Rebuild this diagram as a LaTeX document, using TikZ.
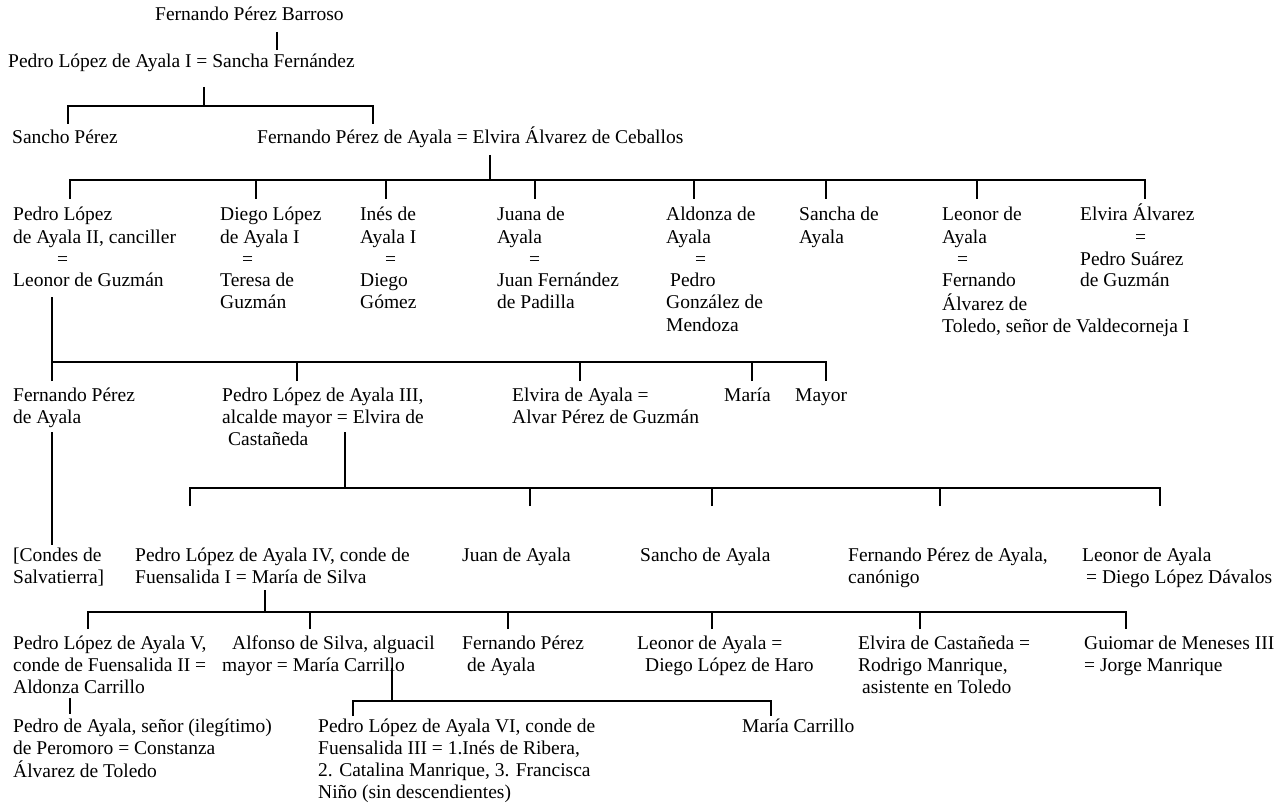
\documentclass[tikz,border=0pt]{standalone}
\usepackage{fontspec}
\setmainfont{Liberation Serif}

\newcommand{\namelines}[1]{\begin{tabular}[t]{@{}l@{}}#1\end{tabular}}

\tikzset{
  person/.style={anchor=base west, inner sep=0pt,
    font=\fontsize{19.5}{22}\selectfont},
  famline/.style={line width=1.3pt}
}

\begin{document}
\begin{tikzpicture}[x=1pt,y=-1pt]
  \useasboundingbox (0,0) rectangle (1279,805);

  % first generations
  \node[person] (barroso) at (155,21) {Fernando Pérez Barroso};
  \node[person] (pedroI) at (8,68) {Pedro López de Ayala I = Sancha Fernández};
  \node[person] (sanchoP) at (12,144) {Sancho Pérez};
  \node[person] (fernandoP) at (257,144) {Fernando Pérez de Ayala = Elvira Álvarez de Ceballos};

  % children of Fernando Pérez de Ayala
  \node[person] (pedroII) at (13,221) {\namelines{Pedro López\\de Ayala II, canciller\\\hspace*{44pt}=\\Leonor de Guzmán}};
  \node[person] (diegoI) at (220,221) {\namelines{Diego López\\de Ayala I\\\hspace*{22pt}=\\Teresa de\\Guzmán}};
  \node[person] (inesI) at (360,221) {\namelines{Inés de\\Ayala I\\\hspace*{25pt}=\\Diego\\Gómez}};
  \node[person] (juanaA) at (497,221) {\namelines{Juana de\\Ayala\\\hspace*{32pt}=\\Juan Fernández\\de Padilla}};
  \node[person] (aldonzaA) at (666,221) {\namelines{Aldonza de\\Ayala\\\hspace*{29pt}=\\\hspace*{4pt}Pedro\\González de\\Mendoza}};
  \node[person] (sanchaA) at (799,221) {\namelines{Sancha de\\Ayala}};
  \node[person] (leonorA) at (942,221) {\namelines{Leonor de\\Ayala\\\hspace*{15pt}=\\Fernando\\Álvarez de\\Toledo, señor de Valdecorneja I}};
  \node[person] (elviraA) at (1080,221) {\namelines{Elvira Álvarez\\\hspace*{55pt}=\\Pedro Suárez\\de Guzmán}};

  % children of Pedro López de Ayala II
  \node[person] (fernandoS) at (13,401) {\namelines{Fernando Pérez\\de Ayala}};
  \node[person] (pedroIII) at (222,401) {\namelines{Pedro López de Ayala III,\\alcalde mayor = Elvira de\\\hspace*{6pt}Castañeda}};
  \node[person] (elviraB) at (512,401) {\namelines{Elvira de Ayala =\\Alvar Pérez de Guzmán}};
  \node[person] (mariaA) at (724,401) {María};
  \node[person] (mayorA) at (795,401) {Mayor};

  % children of Pedro López de Ayala III
  \node[person] (condes) at (13,561) {\namelines{[Condes de\\Salvatierra]}};
  \node[person] (pedroIV) at (135,561) {\namelines{Pedro López de Ayala IV, conde de\\Fuensalida I = María de Silva}};
  \node[person] (juanB) at (462,561) {Juan de Ayala};
  \node[person] (sanchoB) at (640,561) {Sancho de Ayala};
  \node[person] (fernandoC) at (848,561) {\namelines{Fernando Pérez de Ayala,\\canónigo}};
  \node[person] (leonorB) at (1082,561) {\namelines{Leonor de Ayala\\\hspace*{4pt}= Diego López Dávalos}};

  % children of Pedro López de Ayala IV
  \node[person] (pedroV) at (13,649) {\namelines{Pedro López de Ayala V,\\conde de Fuensalida II =\\Aldonza Carrillo}};
  \node[person] (alfonso) at (222,649) {\namelines{\hspace*{10pt}Alfonso de Silva, alguacil\\mayor = María Carrillo}};
  \node[person] (fernandoD) at (462,649) {\namelines{Fernando Pérez\\\hspace*{5pt}de Ayala}};
  \node[person] (leonorC) at (637,649) {\namelines{Leonor de Ayala =\\\hspace*{8pt}Diego López de Haro}};
  \node[person] (elviraC) at (858,649) {\namelines{Elvira de Castañeda =\\Rodrigo Manrique,\\\hspace*{4pt}asistente en Toledo}};
  \node[person] (guiomar) at (1084,649) {\namelines{Guiomar de Meneses III\\= Jorge Manrique}};

  % last generation
  \node[person] (pedroA) at (13,732) {\namelines{Pedro de Ayala, señor (ilegítimo)\\de Peromoro = Constanza\\Álvarez de Toledo}};
  \node[person] (pedroVI) at (318,732) {\namelines{Pedro López de Ayala VI, conde de\\Fuensalida III = 1.Inés de Ribera,\\2. Catalina Manrique, 3. Francisca\\Niño (sin descendientes)}};
  \node[person] (mariaC) at (742,732) {María Carrillo};

  % Barroso -> Pedro I
  \coordinate (barroso-out) at (277,32);
  \coordinate (pedroI-in) at (277,50);
  \draw[famline] (barroso-out) -- (pedroI-in);

  % Pedro I -> Sancho, Fernando
  \coordinate (pedroI-out) at (204,87);
  \coordinate (fam1) at (204,106);
  \foreach \n/\x in {sanchoP/68, fernandoP/373}
    \coordinate (\n-in) at (\x,124);
  \draw[famline] (pedroI-out) -- (fam1);
  \draw[famline] (sanchoP-in) |- (fam1) -| (fernandoP-in);

  % Fernando = Elvira -> eight children
  \coordinate (fernandoP-out) at (490,155);
  \coordinate (fam2) at (490,180);
  \foreach \n/\x in {pedroII/70, diegoI/256, inesI/386, juanaA/535,
                     aldonzaA/694, sanchaA/826, leonorA/977, elviraA/1145}
    \coordinate (\n-in) at (\x,199);
  \draw[famline] (fernandoP-out) -- (fam2);
  \draw[famline] (pedroII-in) |- (fam2) -| (elviraA-in);
  \foreach \n in {diegoI, inesI, juanaA, aldonzaA, sanchaA, leonorA}
    \draw[famline] (\n-in) -- (\n-in |- fam2);

  % Pedro II = Leonor -> five children
  \coordinate (pedroII-out) at (52,297);
  \coordinate (fam3) at (52,362);
  \foreach \n/\x in {fernandoS/52, pedroIII/297, elviraB/580, mariaA/752, mayorA/826}
    \coordinate (\n-in) at (\x,381);
  \draw[famline] (pedroII-out) -- (fam3);
  \draw[famline] (fernandoS-in) |- (fam3) -| (mayorA-in);
  \foreach \n in {pedroIII, elviraB, mariaA}
    \draw[famline] (\n-in) -- (\n-in |- fam3);

  % Fernando -> Condes de Salvatierra
  \coordinate (fernandoS-out) at (52,432);
  \coordinate (condes-in) at (52,545);
  \draw[famline] (fernandoS-out) -- (condes-in);

  % Pedro III = Elvira -> five children
  \coordinate (pedroIII-out) at (345,432);
  \coordinate (fam4) at (345,488);
  \foreach \n/\x in {pedroIV/190, juanB/530, sanchoB/712, fernandoC/940, leonorB/1160}
    \coordinate (\n-in) at (\x,506);
  \draw[famline] (pedroIII-out) -- (fam4);
  \draw[famline] (pedroIV-in) |- (fam4) -| (leonorB-in);
  \foreach \n in {juanB, sanchoB, fernandoC}
    \draw[famline] (\n-in) -- (\n-in |- fam4);

  % Pedro IV = Maria -> six children
  \coordinate (pedroIV-out) at (265,590);
  \coordinate (fam5) at (265,612);
  \foreach \n/\x in {pedroV/88, alfonso/310, fernandoD/508, leonorC/712, elviraC/920, guiomar/1126}
    \coordinate (\n-in) at (\x,629);
  \draw[famline] (pedroIV-out) -- (fam5);
  \draw[famline] (pedroV-in) |- (fam5) -| (guiomar-in);
  \foreach \n in {alfonso, fernandoD, leonorC, elviraC}
    \draw[famline] (\n-in) -- (\n-in |- fam5);

  % Pedro V -> Pedro de Ayala
  \coordinate (pedroV-out) at (70,698);
  \coordinate (pedroA-in) at (70,714);
  \draw[famline] (pedroV-out) -- (pedroA-in);

  % Alfonso = Maria -> two children
  \coordinate (alfonso-out) at (392,668);
  \coordinate (fam6) at (392,701);
  \foreach \n/\x in {pedroVI/353, mariaC/771}
    \coordinate (\n-in) at (\x,716);
  \draw[famline] (alfonso-out) -- (fam6);
  \draw[famline] (pedroVI-in) |- (fam6) -| (mariaC-in);
\end{tikzpicture}
\end{document}
